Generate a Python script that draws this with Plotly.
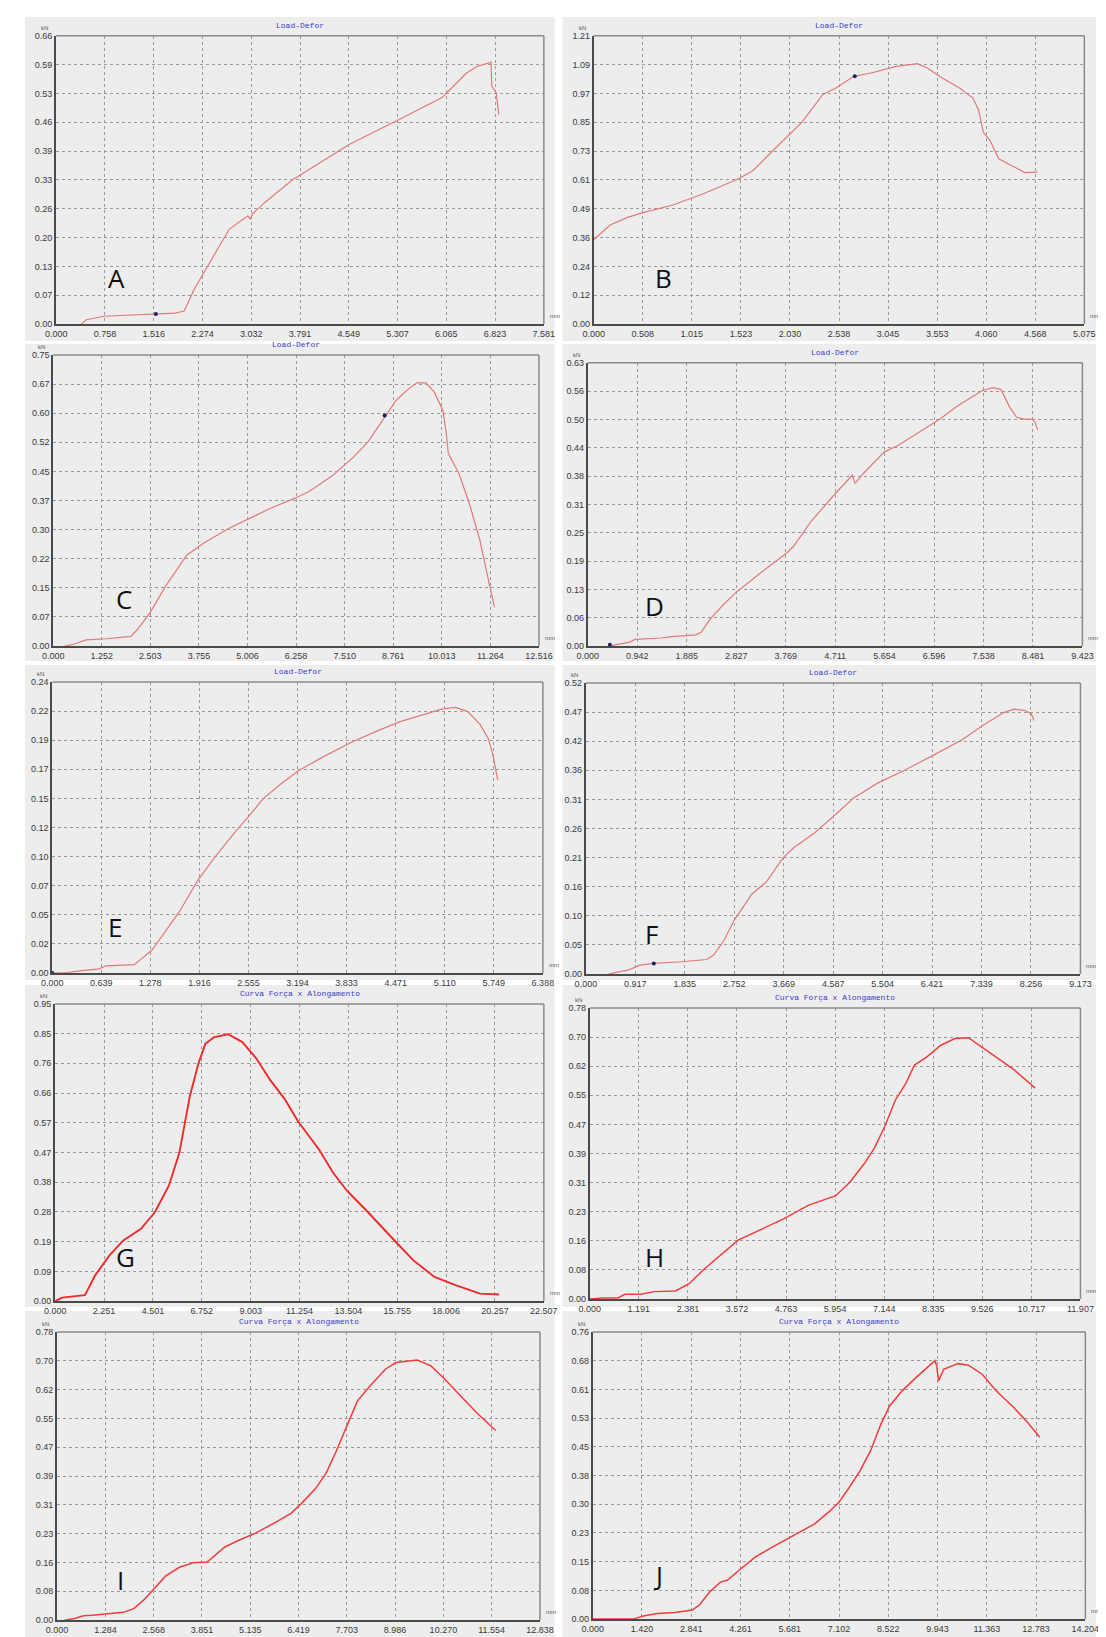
import plotly.graph_objects as go

# ---------------- data ----------------
A_x = [0.39, 0.47, 0.74, 1.10, 1.53, 1.85, 1.99, 2.15, 2.42, 2.69, 2.98, 3.02, 3.05, 3.24, 3.67, 4.16, 4.56, 5.30, 6.00, 6.38, 6.54, 6.73, 6.76, 6.77, 6.84, 6.88]
A_y = [0.00, 0.01, 0.018, 0.020, 0.023, 0.025, 0.030, 0.081, 0.149, 0.217, 0.248, 0.240, 0.252, 0.278, 0.330, 0.376, 0.412, 0.466, 0.519, 0.575, 0.590, 0.598, 0.600, 0.545, 0.530, 0.480]
A_xticks = ["0.000", "0.758", "1.516", "2.274", "3.032", "3.791", "4.549", "5.307", "6.065", "6.823", "7.581"]
A_yticks = ["0.00", "0.07", "0.13", "0.20", "0.26", "0.33", "0.39", "0.46", "0.53", "0.59", "0.66"]
A_mark = (1.55, 0.023)

B_x = [0.00, 0.17, 0.35, 0.51, 0.82, 1.14, 1.50, 1.65, 1.87, 2.15, 2.37, 2.51, 2.69, 2.88, 3.13, 3.35, 3.45, 3.60, 3.78, 3.92, 3.98, 4.03, 4.10, 4.19, 4.32, 4.46, 4.59]
B_y = [0.354, 0.416, 0.448, 0.468, 0.500, 0.548, 0.610, 0.645, 0.735, 0.846, 0.964, 0.992, 1.040, 1.055, 1.082, 1.093, 1.075, 1.034, 0.992, 0.950, 0.900, 0.805, 0.770, 0.694, 0.666, 0.636, 0.638]
B_xticks = ["0.000", "0.508", "1.015", "1.523", "2.030", "2.538", "3.045", "3.553", "4.060", "4.568", "5.075"]
B_yticks = ["0.00", "0.12", "0.24", "0.36", "0.49", "0.61", "0.73", "0.85", "0.97", "1.09", "1.21"]
B_mark = (2.70, 1.04)

C_x = [0.30, 0.57, 0.84, 1.37, 2.00, 2.18, 2.50, 2.90, 3.44, 3.89, 4.52, 5.06, 5.60, 6.23, 6.59, 7.21, 7.75, 8.11, 8.56, 8.83, 9.10, 9.37, 9.60, 9.82, 10.04, 10.13, 10.18, 10.45, 10.72, 10.99, 11.21, 11.37]
C_y = [0.000, 0.006, 0.016, 0.019, 0.025, 0.044, 0.087, 0.155, 0.234, 0.266, 0.303, 0.330, 0.355, 0.381, 0.398, 0.440, 0.488, 0.526, 0.594, 0.632, 0.658, 0.678, 0.678, 0.654, 0.607, 0.547, 0.496, 0.445, 0.368, 0.274, 0.172, 0.100]
C_xticks = ["0.000", "1.252", "2.503", "3.755", "5.006", "6.258", "7.510", "8.761", "10.013", "11.264", "12.516"]
C_yticks = ["0.00", "0.07", "0.15", "0.22", "0.30", "0.37", "0.45", "0.52", "0.60", "0.67", "0.75"]
C_mark = (8.54, 0.594)

D_x = [0.40, 0.60, 0.80, 0.90, 1.40, 1.60, 2.06, 2.16, 2.33, 2.59, 2.82, 3.26, 3.79, 3.92, 4.25, 4.72, 5.04, 5.09, 5.25, 5.65, 5.91, 6.71, 7.04, 7.51, 7.71, 7.87, 8.04, 8.17, 8.31, 8.47, 8.52, 8.57]
D_y = [0.000, 0.005, 0.009, 0.015, 0.018, 0.021, 0.025, 0.031, 0.060, 0.093, 0.119, 0.160, 0.207, 0.222, 0.277, 0.340, 0.380, 0.362, 0.384, 0.432, 0.446, 0.505, 0.534, 0.568, 0.575, 0.571, 0.531, 0.509, 0.505, 0.505, 0.498, 0.481]
D_xticks = ["0.000", "0.942", "1.885", "2.827", "3.769", "4.711", "5.654", "6.596", "7.538", "8.481", "9.423"]
D_yticks = ["0.00", "0.06", "0.13", "0.19", "0.25", "0.31", "0.38", "0.44", "0.50", "0.56", "0.63"]
D_mark = (0.42, 0.003)

E_x = [0.00, 0.20, 0.39, 0.61, 0.70, 1.07, 1.16, 1.30, 1.48, 1.66, 1.89, 2.11, 2.39, 2.57, 2.75, 2.98, 3.21, 3.52, 3.89, 4.21, 4.52, 4.84, 5.07, 5.25, 5.41, 5.57, 5.68, 5.74, 5.80]
E_y = [0.000, 0.0005, 0.002, 0.0035, 0.006, 0.007, 0.0117, 0.019, 0.035, 0.051, 0.076, 0.095, 0.117, 0.130, 0.144, 0.156, 0.167, 0.178, 0.190, 0.199, 0.207, 0.2135, 0.2176, 0.219, 0.2155, 0.205, 0.193, 0.179, 0.159]
E_xticks = ["0.000", "0.639", "1.278", "1.916", "2.555", "3.194", "3.833", "4.471", "5.110", "5.749", "6.388"]
E_yticks = ["0.00", "0.02", "0.05", "0.07", "0.10", "0.12", "0.15", "0.17", "0.19", "0.22", "0.24"]
E_mark = (0.0, 0.0)

F_x = [0.42, 0.62, 0.81, 1.00, 1.26, 1.78, 2.24, 2.37, 2.56, 2.75, 3.08, 3.34, 3.66, 3.86, 4.24, 4.63, 4.96, 5.41, 5.93, 6.45, 6.97, 7.36, 7.75, 7.94, 8.13, 8.26, 8.31]
F_y = [0.000, 0.004, 0.008, 0.016, 0.019, 0.022, 0.026, 0.034, 0.060, 0.096, 0.143, 0.164, 0.208, 0.226, 0.252, 0.285, 0.314, 0.341, 0.365, 0.391, 0.418, 0.444, 0.467, 0.473, 0.471, 0.465, 0.453]
F_xticks = ["0.000", "0.917", "1.835", "2.752", "3.669", "4.587", "5.504", "6.421", "7.339", "8.256", "9.173"]
F_yticks = ["0.00", "0.05", "0.10", "0.16", "0.21", "0.26", "0.31", "0.36", "0.42", "0.47", "0.52"]
F_mark = (1.26, 0.019)

G_x = [0.00, 0.32, 1.37, 1.85, 2.50, 3.14, 3.95, 4.59, 5.23, 5.72, 6.20, 6.60, 6.92, 7.33, 7.97, 8.62, 9.26, 9.90, 10.55, 11.19, 12.16, 12.80, 13.45, 14.41, 15.70, 16.50, 17.47, 18.44, 19.56, 20.45]
G_y = [0.000, 0.011, 0.019, 0.083, 0.146, 0.194, 0.231, 0.284, 0.368, 0.474, 0.654, 0.760, 0.823, 0.844, 0.853, 0.828, 0.776, 0.707, 0.648, 0.574, 0.484, 0.410, 0.352, 0.284, 0.188, 0.130, 0.077, 0.051, 0.024, 0.021]
G_xticks = ["0.000", "2.251", "4.501", "6.752", "9.003", "11.254", "13.504", "15.755", "18.006", "20.257", "22.507"]
G_yticks = ["0.00", "0.09", "0.19", "0.28", "0.38", "0.47", "0.57", "0.66", "0.76", "0.85", "0.95"]

H_x = [0.00, 0.30, 0.68, 0.85, 1.23, 1.57, 2.08, 2.42, 2.75, 3.09, 3.60, 4.11, 4.70, 5.30, 5.97, 6.31, 6.65, 6.91, 7.16, 7.42, 7.67, 7.88, 8.18, 8.52, 8.86, 9.19, 9.45, 9.87, 10.30, 10.81]
H_y = [0.000, 0.003, 0.003, 0.013, 0.013, 0.020, 0.022, 0.042, 0.078, 0.109, 0.158, 0.184, 0.215, 0.251, 0.277, 0.313, 0.361, 0.405, 0.463, 0.534, 0.578, 0.627, 0.649, 0.680, 0.698, 0.700, 0.680, 0.649, 0.614, 0.565]
H_xticks = ["0.000", "1.191", "2.381", "3.572", "4.763", "5.954", "7.144", "8.335", "9.526", "10.717", "11.907"]
H_yticks = ["0.00", "0.08", "0.16", "0.23", "0.31", "0.39", "0.47", "0.55", "0.62", "0.70", "0.78"]

I_x = [0.19, 0.46, 0.70, 0.93, 1.76, 2.04, 2.32, 2.60, 2.88, 3.25, 3.62, 3.99, 4.18, 4.46, 4.83, 5.29, 5.85, 6.22, 6.50, 6.87, 7.15, 7.43, 7.71, 7.99, 8.36, 8.73, 9.01, 9.57, 9.94, 10.31, 10.68, 11.15, 11.66]
I_y = [0.000, 0.0045, 0.012, 0.013, 0.021, 0.031, 0.056, 0.088, 0.119, 0.143, 0.155, 0.157, 0.173, 0.198, 0.216, 0.236, 0.267, 0.289, 0.316, 0.356, 0.397, 0.459, 0.527, 0.594, 0.638, 0.679, 0.697, 0.704, 0.688, 0.652, 0.612, 0.562, 0.513]
I_xticks = ["0.000", "1.284", "2.568", "3.851", "5.135", "6.419", "7.703", "8.986", "10.270", "11.554", "12.838"]
I_yticks = ["0.00", "0.08", "0.16", "0.23", "0.31", "0.39", "0.47", "0.55", "0.62", "0.70", "0.78"]

J_x = [0.00, 1.16, 1.46, 1.86, 2.37, 2.87, 3.07, 3.37, 3.68, 3.88, 4.28, 4.68, 5.19, 5.79, 6.40, 6.80, 7.10, 7.40, 7.71, 8.01, 8.31, 8.56, 8.92, 9.32, 9.67, 9.87, 9.92, 9.97, 10.12, 10.53, 10.83, 11.23, 11.63, 12.14, 12.54, 12.89]
J_y = [0.000, 0.000, 0.008, 0.015, 0.0176, 0.024, 0.037, 0.072, 0.098, 0.103, 0.134, 0.164, 0.191, 0.221, 0.252, 0.283, 0.309, 0.349, 0.393, 0.445, 0.516, 0.564, 0.604, 0.639, 0.669, 0.684, 0.669, 0.630, 0.661, 0.676, 0.672, 0.648, 0.604, 0.560, 0.520, 0.481]
J_xticks = ["0.000", "1.420", "2.841", "4.261", "5.681", "7.102", "8.522", "9.943", "11.363", "12.783", "14.204"]
J_yticks = ["0.00", "0.08", "0.15", "0.23", "0.30", "0.38", "0.45", "0.53", "0.61", "0.68", "0.76"]

TITLE_LD = "Load-Defor"
TITLE_CF = "Curva For\u00e7a x Alongamento"

# ---------------- layout (pixel boxes of plot areas) ----------------
W, H = 1106, 1637
panels = [
    # letter, x, y, xticks, yticks, marker, title, box(l, r, t, b), panel bg (l, r, t, b), letter pos, style
    ("A", A_x, A_y, A_xticks, A_yticks, A_mark, TITLE_LD, (38, 537, 23, 313), (6, 548, 4, 330), (100, 267), 0),
    ("B", B_x, B_y, B_xticks, B_yticks, B_mark, TITLE_LD, (588, 1090, 23, 313), (556, 1102, 4, 330), (659, 267), 0),
    ("C", C_x, C_y, C_xticks, C_yticks, C_mark, TITLE_LD, (35, 532, 344, 637), (6, 548, 333, 652), (107, 590), 0),
    ("D", D_x, D_y, D_xticks, D_yticks, D_mark, TITLE_LD, (582, 1088, 352, 637), (556, 1102, 333, 652), (650, 597), 0),
    ("E", E_x, E_y, E_xticks, E_yticks, E_mark, TITLE_LD, (34, 536, 673, 966), (6, 548, 656, 973), (98, 920), 0),
    ("F", F_x, F_y, F_xticks, F_yticks, F_mark, TITLE_LD, (580, 1086, 674, 967), (556, 1102, 656, 973), (647, 927), 0),
    ("G", G_x, G_y, G_xticks, G_yticks, None, TITLE_CF, (37, 537, 997, 1296), (6, 548, 978, 1302), (109, 1252), 2),
    ("H", H_x, H_y, H_xticks, H_yticks, None, TITLE_CF, (584, 1086, 1001, 1294), (556, 1102, 978, 1302), (650, 1252), 1),
    ("I", I_x, I_y, I_xticks, I_yticks, None, TITLE_CF, (39, 533, 1327, 1617), (6, 548, 1306, 1637), (104, 1577), 1),
    ("J", J_x, J_y, J_xticks, J_yticks, None, TITLE_CF, (587, 1091, 1327, 1616), (556, 1102, 1306, 1637), (654, 1572), 1),
]

def px(v):
    return v / W

def py(v):
    return 1 - v / H

fig = go.Figure()
shapes = []
annotations = []
layout = {}
tick_font = dict(family="Liberation Sans Narrow, Liberation Sans, Arial", size=9, color="#3a3a3a")

for i, (letter, xs, ys, xt, yt, mark, title, box, bg, lpos, style) in enumerate(panels, start=1):
    sfx = "" if i == 1 else str(i)
    xname, yname = "x" + sfx, "y" + sfx
    l, r, t, b = box
    xmax = float(xt[-1])
    ymax = float(yt[-1])
    # panel background
    shapes.append(dict(type="rect", xref="paper", yref="paper", layer="below",
                       x0=px(bg[0]), x1=px(bg[1]), y0=py(bg[3]), y1=py(bg[2]),
                       fillcolor="#ededed", line=dict(width=0)))
    if style == 0:
        col, lw = "#e07a7a", 1.2
    elif style == 1:
        col, lw = "#f23c3c", 1.5
    else:
        col, lw = "#ee2a2a", 1.9
    fig.add_trace(go.Scatter(x=xs, y=ys, mode="lines", line=dict(color=col, width=lw),
                             xaxis=xname, yaxis=yname, showlegend=False, hoverinfo="skip"))
    if mark is not None:
        fig.add_trace(go.Scatter(x=[mark[0]], y=[mark[1]], mode="markers",
                                 marker=dict(color="#1c1c70", size=4),
                                 xaxis=xname, yaxis=yname, showlegend=False, hoverinfo="skip",
                                 cliponaxis=False))
    layout["xaxis" + sfx] = dict(
        domain=[px(l), px(r)], anchor=yname, range=[0, xmax],
        tickvals=[k * xmax / 10 for k in range(11)], ticktext=xt,
        showgrid=True, gridcolor="#9a9a9a", griddash="dot", gridwidth=1,
        showline=True, linecolor="#4a4a4a", linewidth=2, mirror=False,
        zeroline=False, ticks="", tickfont=tick_font, fixedrange=True,
    )
    layout["yaxis" + sfx] = dict(
        domain=[py(b), py(t)], anchor=xname, range=[0, ymax],
        tickvals=[k * ymax / 10 for k in range(11)], ticktext=yt,
        showgrid=True, gridcolor="#9a9a9a", griddash="dot", gridwidth=1,
        showline=True, linecolor="#4a4a4a", linewidth=2, mirror=False,
        zeroline=False, ticks="", tickfont=tick_font, fixedrange=True,
    )
    # top / right frame
    shapes.append(dict(type="line", xref="paper", yref="paper",
                       x0=px(l), x1=px(r), y0=py(t), y1=py(t), line=dict(color="#8a8a8a", width=1.5)))
    shapes.append(dict(type="line", xref="paper", yref="paper",
                       x0=px(r), x1=px(r), y0=py(t), y1=py(b), line=dict(color="#8a8a8a", width=1.5)))
    # title
    annotations.append(dict(text=title, xref="paper", yref="paper", x=px((l + r) / 2), y=py(t - 4),
                            xanchor="center", yanchor="bottom", showarrow=False,
                            font=dict(family="Liberation Mono, DejaVu Sans Mono", size=8, color="#3b3bd0")))
    # units
    annotations.append(dict(text="kN", xref="paper", yref="paper", x=px(l - 6), y=py(t - 3),
                            xanchor="right", yanchor="bottom", showarrow=False,
                            font=dict(family="Liberation Sans", size=6, color="#555")))
    annotations.append(dict(text="mm", xref="paper", yref="paper", x=px(r + 4), y=py(b - 3),
                            xanchor="left", yanchor="bottom", showarrow=False,
                            font=dict(family="Liberation Sans", size=6, color="#555")))
    # panel letter
    annotations.append(dict(text=letter, xref="paper", yref="paper", x=px(lpos[0]), y=py(lpos[1]),
                            xanchor="center", yanchor="middle", showarrow=False,
                            font=dict(family="Open Sans, Noto Sans", size=26, color="#111")))

fig.update_layout(
    width=W, height=H, margin=dict(l=0, r=0, t=0, b=0),
    paper_bgcolor="#ffffff", plot_bgcolor="#ededed",
    shapes=shapes, annotations=annotations, showlegend=False,
    **layout,
)

fig.write_html("out.html")
